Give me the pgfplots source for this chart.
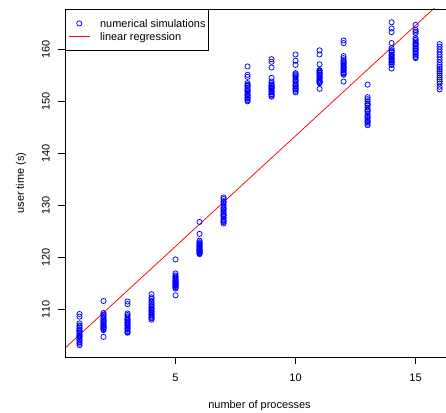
\documentclass[border=0pt]{standalone}
\usepackage{pgfplots}
\pgfplotsset{compat=1.18}
\usepackage{fontspec}
\setmainfont{Liberation Sans}
\begin{document}
\begin{tikzpicture}
\begin{axis}[
  scale only axis, width=389bp, height=348bp,
  at={(0,0)}, anchor=south west,
  xmin=0.396, xmax=16.6, ymin=100.83, ymax=167.75,
  font=\fontsize{11}{13}\selectfont,
  /pgf/number format/assume math mode=true,
  xtick={5,10,15}, ytick={110,120,130,140,150,160},
  tick align=outside, major tick length=7bp,
  xtick pos=bottom, ytick pos=left,
  axis line style={black, line width=0.8bp},
  every tick/.style={black, line width=0.8bp},
  yticklabel style={rotate=90, anchor=south, inner sep=0pt, yshift=8bp},
  xticklabel style={anchor=north, inner sep=0pt, yshift=-10bp},
  xlabel={number of processes}, ylabel={user time (s)},
  xlabel style={at={(axis description cs:0.5,-0.1408)}, anchor=center},
  ylabel style={at={(axis description cs:-0.1131,0.5)}, anchor=center},
  legend cell align=left,
  legend image code/.code={\draw[#1, mark repeat=2, mark phase=2] plot coordinates {(0bp,0bp) (10.5bp,0bp) (21bp,0bp)};},
  legend style={at={(0,1)}, anchor=north west, draw=black, line width=0.8bp,
    inner xsep=3bp, inner ysep=7.5bp,
    nodes={inner xsep=0pt, inner ysep=1.25bp, text height=9.5bp, text depth=1bp, anchor=west, line width=0.8bp},
    /tikz/every odd column/.append style={column sep=10bp},
    font=\fontsize{11}{13}\selectfont},
]
\addplot[only marks, mark=o, blue, mark size=2.6bp, line width=0.75bp] coordinates {
(1,109.1)(1,108.6)(1,107.3)(1,106.7)(1,106.4)(1,106.1)(1,105.8)(1,105.5)(1,105.2)(1,105.0)(1,104.7)(1,104.5)(1,104.2)(1,104.0)(1,103.7)(1,103.4)(1,103.1)(1,106.9)(1,105.9)(1,104.8)
(2,111.6)(2,109.3)(2,108.8)(2,108.3)(2,107.9)(2,107.6)(2,107.3)(2,107.0)(2,106.8)(2,106.5)(2,106.2)(2,106.0)(2,109.0)(2,108.0)(2,107.1)(2,106.4)(2,104.7)(2,108.5)(2,107.7)(2,106.6)
(3,111.5)(3,111.0)(3,109.2)(3,108.9)(3,108.6)(3,108.2)(3,107.9)(3,107.6)(3,107.3)(3,107.0)(3,106.7)(3,106.4)(3,106.1)(3,105.8)(3,105.5)(3,108.0)(3,107.4)(3,106.9)(3,106.2)(3,105.6)
(4,112.9)(4,112.3)(4,111.6)(4,111.0)(4,110.5)(4,110.1)(4,109.8)(4,109.5)(4,109.2)(4,108.9)(4,108.6)(4,108.3)(4,108.0)(4,110.8)(4,110.2)(4,109.6)(4,109.0)(4,108.4)(4,111.3)(4,112.0)
(5,119.6)(5,116.9)(5,116.5)(5,116.1)(5,115.7)(5,115.4)(5,115.1)(5,114.9)(5,114.7)(5,114.5)(5,114.3)(5,114.0)(5,116.3)(5,115.9)(5,115.5)(5,115.0)(5,114.6)(5,114.2)(5,112.7)(5,115.2)
(6,126.8)(6,124.5)(6,123.2)(6,122.9)(6,122.6)(6,122.4)(6,122.2)(6,122.0)(6,121.8)(6,121.6)(6,121.4)(6,121.2)(6,121.0)(6,120.8)(6,120.6)(6,122.7)(6,122.1)(6,121.5)(6,120.9)(6,121.3)
(7,131.5)(7,131.2)(7,130.8)(7,130.4)(7,130.0)(7,129.6)(7,129.2)(7,128.9)(7,128.6)(7,128.3)(7,128.0)(7,127.7)(7,127.4)(7,127.1)(7,126.8)(7,126.5)(7,130.6)(7,129.4)(7,128.1)(7,127.0)
(8,156.7)(8,155.1)(8,154.7)(8,153.5)(8,153.2)(8,152.9)(8,152.6)(8,152.3)(8,152.0)(8,151.7)(8,151.4)(8,151.1)(8,150.8)(8,150.5)(8,150.2)(8,150.0)(8,153.0)(8,152.1)(8,151.2)(8,150.6)
(9,158.1)(9,157.6)(9,156.5)(9,154.5)(9,153.8)(9,153.5)(9,153.2)(9,152.9)(9,152.6)(9,152.3)(9,152.0)(9,151.7)(9,151.4)(9,151.1)(9,150.9)(9,153.0)(9,152.4)(9,151.8)(9,151.3)(9,152.7)
(10,159.0)(10,157.8)(10,157.0)(10,155.4)(10,155.0)(10,154.6)(10,154.2)(10,153.8)(10,153.5)(10,153.2)(10,152.9)(10,152.6)(10,152.3)(10,152.0)(10,151.7)(10,154.8)(10,154.0)(10,153.0)(10,152.4)(10,155.2)
(11,159.8)(11,159.0)(11,157.1)(11,156.0)(11,155.7)(11,155.4)(11,155.1)(11,154.8)(11,154.5)(11,154.2)(11,153.9)(11,153.7)(11,153.5)(11,152.4)(11,155.9)(11,155.2)(11,154.6)(11,154.0)(11,153.6)(11,155.5)
(12,161.7)(12,161.2)(12,158.7)(12,158.3)(12,157.9)(12,157.5)(12,157.1)(12,156.8)(12,156.5)(12,156.2)(12,155.9)(12,155.6)(12,155.3)(12,155.1)(12,153.8)(12,157.3)(12,156.6)(12,156.0)(12,155.4)(12,157.7)
(13,153.2)(13,150.8)(13,150.4)(13,150.0)(13,149.6)(13,149.2)(13,148.8)(13,148.4)(13,148.0)(13,147.6)(13,147.2)(13,146.8)(13,146.4)(13,146.0)(13,145.7)(13,145.4)(13,149.4)(13,148.2)(13,147.0)(13,146.2)
(14,165.2)(14,164.0)(14,163.3)(14,161.2)(14,160.2)(14,159.8)(14,159.4)(14,159.0)(14,158.7)(14,158.4)(14,158.1)(14,157.8)(14,157.5)(14,157.2)(14,157.0)(14,156.3)(14,159.6)(14,158.9)(14,158.2)(14,157.6)
(15,164.7)(15,163.7)(15,163.4)(15,163.1)(15,162.1)(15,161.8)(15,161.5)(15,161.2)(15,160.9)(15,160.6)(15,160.3)(15,160.0)(15,159.7)(15,159.4)(15,159.1)(15,158.8)(15,158.5)(15,158.3)(15,161.0)(15,160.1)
(16,161.0)(16,160.5)(16,160.0)(16,159.5)(16,159.0)(16,158.5)(16,158.0)(16,157.5)(16,157.0)(16,156.6)(16,156.2)(16,155.8)(16,155.4)(16,155.0)(16,154.6)(16,154.2)(16,153.8)(16,153.4)(16,152.8)(16,152.3)
};
\addlegendentry{numerical simulations}
\addplot[red, line width=0.75bp, no marks] coordinates {(0.396,102.54) (16.6,171.41)};
\addlegendentry{linear regression}
\end{axis}
\draw[black, line width=0.8bp] (0,0) rectangle (389bp,348bp);
\pgfresetboundingbox
\path (-65bp,-56bp) rectangle (381bp,357bp);
\end{tikzpicture}
\end{document}
